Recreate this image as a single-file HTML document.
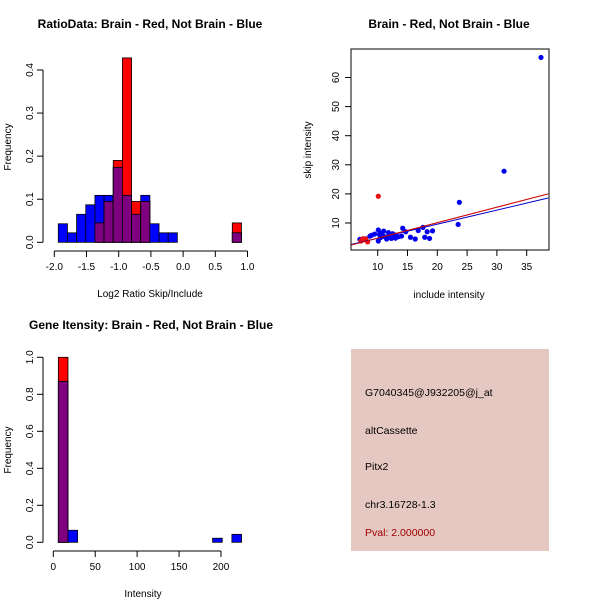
<!DOCTYPE html>
<html><head><meta charset="utf-8"><style>
body{margin:0;background:#fff}
svg{display:block;font-family:"Liberation Sans",Arial,sans-serif}
</style></head><body>
<svg id="c" width="600" height="600" viewBox="0 0 600 600">
<rect width="600" height="600" fill="#fff"/>
<text x="150" y="28" font-size="12" font-weight="bold" text-anchor="middle">RatioData: Brain - Red, Not Brain - Blue</text>
<text x="449" y="28" font-size="12" font-weight="bold" text-anchor="middle">Brain - Red, Not Brain - Blue</text>
<text x="151" y="329" font-size="12" font-weight="bold" text-anchor="middle">Gene Itensity: Brain - Red, Not Brain - Blue</text>
<g id="p1"></g>
<g id="p2"></g>
<g id="p3"></g>
<g>
<rect x="351" y="349" width="198" height="202" fill="#e5c8c2"/>
<g font-size="10.5">
<text x="365" y="396">G7040345@J932205@j_at</text>
<text x="365" y="434">altCassette</text>
<text x="365" y="470">Pitx2</text>
<text x="365" y="508">chr3.16728-1.3</text>
<text x="365" y="536" fill="#a00000">Pval: 2.000000</text>
</g></g>
</svg>
<script>
// Plot 1 data
const ratioStart = -1.938, ratioWidth = 0.1422;
const ratioBlue = [0.043,0.022,0.065,0.087,0.109,0.109,0.174,0.109,0.065,0.109,0.043,0.022,0.022,0,0,0,0,0,0,0.022];
const ratioRed  = [0,0,0,0,0.045,0.095,0.19,0.428,0.095,0.095,0,0,0,0,0,0,0,0,0,0.045];
const ratioXTicks = [-2,-1.5,-1,-0.5,0,0.5,1];
const ratioXLabels = ["-2.0","-1.5","-1.0","-0.5","0.0","0.5","1.0"];
const ratioYTicks = [0,0.1,0.2,0.3,0.4];
// Plot 2 data
const blueX = [7.0,8.7,9.5,10.1,10.1,10.7,11.2,11.8,12.3,12.9,13.5,14.2,14.7,15.5,16.3,16.8,17.6,17.9,18.3,18.7,19.2,23.5,23.7,31.2,37.4,10.5,11.0,11.5,12.0,12.5,13.0,9.0,8.0,10.3,14.0];
const blueY = [4.4,5.5,6.2,7.6,3.8,6.5,5.3,6.7,4.7,5.9,5.3,8.2,7.0,5.1,4.5,7.4,8.5,5.1,7.0,4.7,7.3,9.5,17.1,27.8,66.9,5.0,7.2,4.5,5.5,6.3,4.8,5.8,4.6,6.0,5.5];
const redX = [8.0,8.3,7.2,7.5,10.1];
const redY = [4.5,3.5,3.8,4.6,19.2];
const redLine = [[5.5,2.4],[38.6,20.0]];
const blueLine = [[5.5,2.6],[38.6,18.6]];
const scXTicks = [10,15,20,25,30,35];
const scYTicks = [10,20,30,40,50,60];
// Plot 3 data
const intStart = 6, intWidth = 11.5;
const intBlue = [0.87,0.065,0,0,0,0,0,0,0,0,0,0,0,0,0,0,0.022,0,0.043];
const intRed  = [1.0,0,0,0,0,0,0,0,0,0,0,0,0,0,0,0,0,0,0];
const intXTicks = [0,50,100,150,200];
const intYTicks = [0,0.2,0.4,0.6,0.8,1.0];
const intYLabels = ["0.0","0.2","0.4","0.6","0.8","1.0"];

const NS="http://www.w3.org/2000/svg";
function el(p,t,a){const e=document.createElementNS(NS,t);for(const k in a)e.setAttribute(k,a[k]);p.appendChild(e);return e;}

function hist(g,o){
  const sx=v=>o.x0+(v-o.xmin)*o.kx, sy=v=>o.y0-v*o.ky;
  for(let i=0;i<o.blue.length;i++){
    const a=o.start+i*o.w, x1=sx(a), x2=sx(a+o.w);
    const r=o.red[i], b=o.blue[i], m=Math.min(r,b);
    if(r>0){const e=el(g,'rect',{x:x1,y:sy(r),width:x2-x1,height:sy(0)-sy(r),fill:'#ff0000',stroke:'#000','stroke-width':0.8});
      
      }
    if(b>0){const e=el(g,'rect',{x:x1,y:sy(b),width:x2-x1,height:sy(0)-sy(b),fill:'#0000ff',stroke:'#000','stroke-width':0.8});
      
      }
    if(m>0){const e=el(g,'rect',{x:x1,y:sy(m),width:x2-x1,height:sy(0)-sy(m),fill:'#7f007f',stroke:'#000','stroke-width':0.8});
      
      }
  }
  const ax=el(g,'line',{x1:sx(o.xt[0]),x2:sx(o.xt[o.xt.length-1]),y1:o.axY,y2:o.axY,stroke:'#000'});
  
  
  o.xt.forEach((t,i)=>{el(g,'line',{x1:sx(t),x2:sx(t),y1:o.axY,y2:o.axY+6,stroke:'#000'});
    const tx=el(g,'text',{x:sx(t),y:o.axY+19,'font-size':10,'text-anchor':'middle'});tx.textContent=o.xl?o.xl[i]:t;
    
    });
  const ay=el(g,'line',{x1:o.axX,x2:o.axX,y1:sy(o.yt[0]),y2:sy(o.yt[o.yt.length-1]),stroke:'#000'});
  
  
  o.yt.forEach((t,i)=>{el(g,'line',{x1:o.axX-6,x2:o.axX,y1:sy(t),y2:sy(t),stroke:'#000'});
    const tx=el(g,'text',{x:o.axX-10,y:sy(t),'font-size':10,'text-anchor':'middle',transform:`rotate(-90 ${o.axX-10} ${sy(t)})`});tx.textContent=o.yl?o.yl[i]:t.toFixed(1);
    
    });
  const xl=el(g,'text',{x:o.xlx,y:o.axY+46,'font-size':10,'text-anchor':'middle'});xl.textContent=o.xlab;
  
  
  const yl=el(g,'text',{x:11,y:o.yly,'font-size':10,'text-anchor':'middle',transform:`rotate(-90 11 ${o.yly})`});yl.textContent='Frequency';
  
  
}
hist(document.getElementById('p1'),{x0:54.3,xmin:-2,kx:64.4,y0:242.3,ky:430.8,start:ratioStart,w:ratioWidth,blue:ratioBlue,red:ratioRed,
  xt:ratioXTicks,xl:ratioXLabels,yt:ratioYTicks,axY:251,axX:43,xlab:'Log2 Ratio Skip/Include',xlx:150,yly:147});
hist(document.getElementById('p3'),{x0:53.3,xmin:0,kx:0.8384,y0:542.3,ky:185,start:intStart,w:intWidth,blue:intBlue,red:intRed,
  xt:intXTicks,yt:intYTicks,yl:intYLabels,axY:551,axX:43,xlab:'Intensity',xlx:143,yly:450});

(function(){
  const g=document.getElementById('p2');
  const sx=v=>377.7+(v-10)*5.96, sy=v=>223-(v-10)*2.91;
  const fr=el(g,'rect',{x:351,y:49,width:198,height:201,fill:'none',stroke:'#000'});
  
  
  const cp=el(g,'clipPath',{id:'cl'});el(cp,'rect',{x:351,y:49,width:198,height:201});
  const pg=el(g,'g',{'clip-path':'url(#cl)'});
  blueX.forEach((x,i)=>{const c=el(pg,'circle',{cx:sx(x),cy:sy(blueY[i]),r:2.6,fill:'#0000ee'});
    
    });
  redX.forEach((x,i)=>{const c=el(pg,'circle',{cx:sx(x),cy:sy(redY[i]),r:2.6,fill:'#ee1111'});
    
    });
  const bl=el(pg,'line',{x1:sx(blueLine[0][0]),y1:sy(blueLine[0][1]),x2:sx(blueLine[1][0]),y2:sy(blueLine[1][1]),stroke:'#0000cc','stroke-width':1});
  
  
  const rl=el(pg,'line',{x1:sx(redLine[0][0]),y1:sy(redLine[0][1]),x2:sx(redLine[1][0]),y2:sy(redLine[1][1]),stroke:'#cc0000','stroke-width':1});
  
  
  scXTicks.forEach(t=>{el(g,'line',{x1:sx(t),x2:sx(t),y1:250,y2:256,stroke:'#000'});
    const tx=el(g,'text',{x:sx(t),y:270,'font-size':10,'text-anchor':'middle'});tx.textContent=t;
    
    });
  scYTicks.forEach(t=>{el(g,'line',{x1:345,x2:351,y1:sy(t),y2:sy(t),stroke:'#000'});
    const tx=el(g,'text',{x:339,y:sy(t),'font-size':10,'text-anchor':'middle',transform:`rotate(-90 339 ${sy(t)})`});tx.textContent=t;
    
    });
  const xl=el(g,'text',{x:449,y:298,'font-size':10,'text-anchor':'middle'});xl.textContent='include intensity';
  
  
  const yl=el(g,'text',{x:311,y:150,'font-size':10,'text-anchor':'middle',transform:'rotate(-90 311 150)'});yl.textContent='skip intensity';
  
  
})();
</script>
</body></html>
